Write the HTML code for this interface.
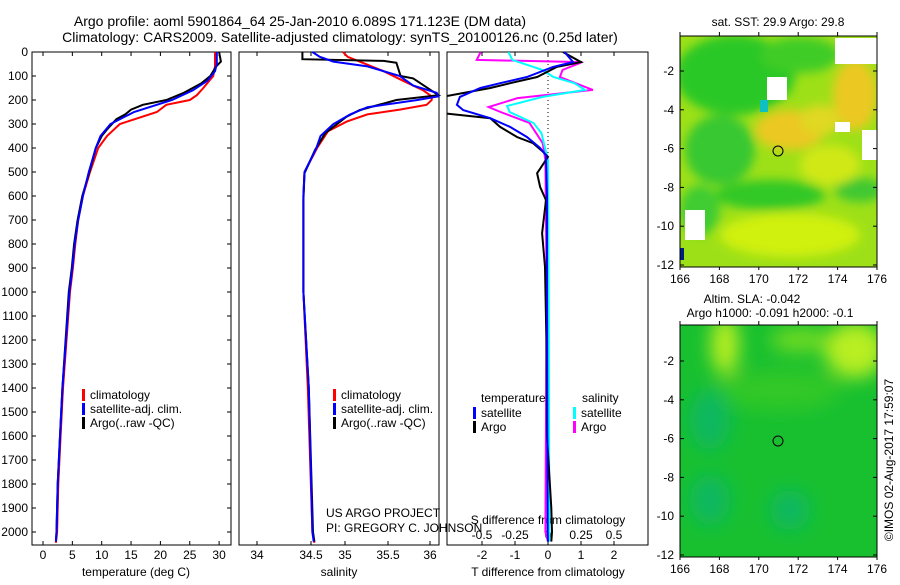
<!DOCTYPE html>
<html><head><meta charset="utf-8"><style>
body{margin:0;background:#fff;}
svg{font-family:"Liberation Sans",sans-serif;}
</style></head><body>
<svg id="c" width="900" height="580" xmlns="http://www.w3.org/2000/svg">
<defs>
<clipPath id="cp3"><rect x="447" y="52" width="201" height="493"/></clipPath>
<clipPath id="cpm1"><rect x="680" y="36" width="197" height="231"/></clipPath>
<clipPath id="cpm2"><rect x="680" y="325" width="197" height="232"/></clipPath>
<filter id="bl" x="-50%" y="-50%" width="200%" height="200%"><feGaussianBlur stdDeviation="5"/></filter>
<filter id="bl2" x="-50%" y="-50%" width="200%" height="200%"><feGaussianBlur stdDeviation="9"/></filter>
</defs>
<text x="300" y="26" font-size="14" text-anchor="middle">Argo profile: aoml 5901864_64 25-Jan-2010 6.089S 171.123E (DM data)</text>
<text x="340" y="42" font-size="14" text-anchor="middle">Climatology: CARS2009. Satellite-adjusted climatology: synTS_20100126.nc (0.25d later)</text>

<!-- maps -->
<g clip-path="url(#cpm1)">
<rect x="680" y="36" width="197" height="231" fill="#9ee018"/>
<g filter="url(#bl)">
<ellipse cx="735" cy="75" rx="60" ry="40" fill="#2cc828"/>
<ellipse cx="800" cy="55" rx="40" ry="18" fill="#40cc28"/>
<ellipse cx="720" cy="150" rx="35" ry="35" fill="#38c830"/>
<ellipse cx="770" cy="195" rx="55" ry="15" fill="#30c828"/>
<ellipse cx="860" cy="190" rx="25" ry="12" fill="#40c830"/>
<ellipse cx="700" cy="210" rx="20" ry="25" fill="#40cc30"/>
<ellipse cx="790" cy="130" rx="35" ry="20" fill="#ecc820"/>
<ellipse cx="855" cy="95" rx="22" ry="35" fill="#ecc820"/>
<ellipse cx="820" cy="120" rx="20" ry="15" fill="#e0d820"/>
<ellipse cx="790" cy="235" rx="70" ry="22" fill="#d0f010"/>
<ellipse cx="830" cy="165" rx="30" ry="20" fill="#d0e818"/>
</g>
<rect x="767" y="77" width="20" height="23" fill="#fff"/>
<rect x="835" y="122" width="15" height="10" fill="#fff"/>
<rect x="685" y="210" width="20" height="30" fill="#fff"/>
<rect x="680" y="248" width="4" height="12" fill="#002080"/>
<rect x="835" y="38" width="42" height="26" fill="#fff"/>
<rect x="862" y="130" width="15" height="30" fill="#fff"/>
<rect x="760" y="100" width="8" height="12" fill="#10c0c0"/>
</g>
<rect x="680" y="36" width="197" height="231" fill="none" stroke="#000"/>
<circle cx="778" cy="151" r="5" fill="none" stroke="#000"/>
<text x="778" y="26" font-size="12" text-anchor="middle">sat. SST: 29.9 Argo: 29.8</text>

<g clip-path="url(#cpm2)">
<rect x="680" y="325" width="197" height="232" fill="#18c030"/>
<g filter="url(#bl2)">
<ellipse cx="725" cy="345" rx="14" ry="30" fill="#b8ee20"/>
<ellipse cx="855" cy="350" rx="30" ry="28" fill="#b8ee20"/>
<ellipse cx="800" cy="340" rx="30" ry="12" fill="#70da20"/>
<ellipse cx="780" cy="390" rx="60" ry="20" fill="#30c828"/>
<ellipse cx="710" cy="420" rx="20" ry="30" fill="#10b860"/>
<ellipse cx="710" cy="500" rx="20" ry="25" fill="#10b860"/>
<ellipse cx="790" cy="510" rx="20" ry="20" fill="#10b860"/>
</g>
</g>
<rect x="680" y="325" width="197" height="232" fill="none" stroke="#000"/>
<circle cx="778" cy="441" r="5" fill="none" stroke="#000"/>
<text x="752" y="303" font-size="12" text-anchor="middle">Altim. SLA: -0.042</text>
<text x="770" y="317" font-size="12" text-anchor="middle">Argo h1000: -0.091 h2000: -0.1</text>
<text transform="translate(893,460) rotate(-90)" font-size="12" text-anchor="middle">©IMOS 02-Aug-2017 17:59:07</text>
<g id="axes"></g>
</svg>
<script>
// ---- data (depth in m) ----
const tClimD=[0,60,100,150,180,200,220,250,300,350,400,500,600,700,800,900,1000,1400,1600,1800,2000,2045];
const tClimV=[29.3,29.3,29.0,27.3,26.2,25.0,21.0,19.4,13.1,10.9,9.4,8.0,6.8,6.0,5.5,5.1,4.6,3.4,3.0,2.6,2.4,2.2];
const tSatD=[0,50,80,120,160,200,250,300,350,400,500,600,700,800,900,1000,1400,1600,1800,2000,2040];
const tSatV=[29.6,29.6,29.3,28.0,25.5,22.0,15.5,11.5,9.8,9.0,7.8,6.8,6.0,5.4,5.0,4.5,3.3,2.9,2.5,2.3,2.2];
const tArgD=[0,40,60,100,130,170,200,220,240,260,280,320,350,400,500,600,700,800,900,1000,1400,1600,1800,2000,2040];
const tArgV=[30.0,30.3,29.5,28.5,27.0,24.0,21.0,17.0,15.0,14.0,12.5,11.0,10.0,9.0,7.9,6.7,5.9,5.3,4.9,4.4,3.3,2.9,2.5,2.3,2.2];
const sClimD=[0,20,40,80,120,160,185,200,220,240,260,290,330,400,500,600,1000,1400,2000,2045];
const sClimV=[34.97,35.03,35.17,35.45,35.68,35.92,36.02,36.02,35.96,35.64,35.26,35.02,34.75,34.59,34.44,34.43,34.43,34.47,34.52,34.55];
const sSatD=[0,20,40,60,100,140,170,185,200,230,260,300,350,400,500,600,1000,1400,2000,2040];
const sSatV=[34.52,34.63,34.83,35.26,35.64,35.80,36.08,36.10,35.85,35.26,35.06,34.83,34.64,34.58,34.44,34.43,34.43,34.48,34.52,34.54];
const sArgD=[0,30,37,45,100,110,180,200,242,269,338,408,505,617,1000,1400,2000,2040];
const sArgV=[34.42,34.42,35.45,35.60,35.65,35.80,36.10,35.60,35.17,35.02,34.71,34.56,34.44,34.43,34.43,34.48,34.53,34.55];
const dtSatD=[0,42,62,104,130,150,187,220,242,276,312,354,400,430,600,1000,1500,2000,2040];
const dtSatV=[0.5,0.76,0.15,-0.64,-1.45,-2.05,-2.67,-2.76,-2.57,-1.75,-1.15,-0.64,-0.24,-0.06,-0.03,-0.03,-0.02,-0.01,0];
const dtArgD=[0,42,62,104,130,150,187,255,276,312,354,380,416,437,505,562,617,755,895,1200,1600,1900,2000,2040];
const dtArgV=[0.45,1.0,0.27,-0.33,-1.15,-1.75,-3.2,-3.2,-1.75,-1.45,-0.94,-0.45,-0.15,0,-0.33,-0.24,-0.06,-0.18,-0.09,-0.05,-0.03,0.1,0.12,0.1];
const dsSatD=[0,33,75,104,130,158,187,225,250,296,338,450,1000,2000,2040];
const dsSatV=[-0.30,-0.27,-0.04,0.04,0.20,0.28,-0.04,-0.31,-0.29,-0.11,-0.05,0,0.005,0.01,0.01];
const dsArgD=[0,33,42,75,104,158,192,229,250,296,338,380,450,1000,2000,2040];
const dsArgV=[-0.51,-0.54,0.26,0.11,0.09,0.34,-0.23,-0.45,-0.36,-0.14,-0.09,-0.04,-0.02,-0.01,-0.02,0];
const depthTicks=[0,100,200,300,400,500,600,700,800,900,1000,1100,1200,1300,1400,1500,1600,1700,1800,1900,2000];
const tTicks=[0,5,10,15,20,25,30];
const sTicks=[34,34.5,35,35.5,36];
const dtTicks=[-2,-1,0,1,2];
const dsTicks=[-0.5,-0.25,0,0.25,0.5];
const dsTickLabels=["-0.5","-0.25","0","0.25","0.5"];
const latTicks=[-2,-4,-6,-8,-10,-12];
const lonTicks=[166,168,170,172,174,176];

// ---- axis functions ----
const yD=d=>52+d*0.24;
const xT=t=>43+t*5.87;
const sK=[34,34.5,35,35.5,36], sP=[257,311,345,388,430];
function xS(s){let i=0;if(s<=sK[0])i=0;else if(s>=sK[4])i=3;else{while(s>sK[i+1])i++;}return sP[i]+(s-sK[i])/(sK[i+1]-sK[i])*(sP[i+1]-sP[i]);}
const xTd=v=>548+v*33;
const xSd=v=>548+v*132;
const xLon=l=>680+(l-166)*19.7;
const yLat1=l=>71+(-2-l)*19.4;
const yLat2=l=>361+(-2-l)*19.4;

const NS='http://www.w3.org/2000/svg';
const g=document.getElementById('axes');
function mk(tag,at,parent){const e=document.createElementNS(NS,tag);for(const k in at)e.setAttribute(k,at[k]);(parent||g).appendChild(e);return e;}
function txt(x,y,s,anchor,size,parent){const e=mk('text',{x:x,y:y,'font-size':size||12,'text-anchor':anchor||'middle'},parent);e.textContent=s;return e;}

const panels=[[32,199,'temperature-panel'],[239,200,'salinity-panel'],[447,201,'difference-panel']];
panels.forEach(p=>{
  const r=mk('rect',{x:p[0],y:52,width:p[1],height:493,fill:'none',stroke:'#000'});
  
  
});
depthTicks.forEach(d=>{
  const y=yD(d);
  const t=txt(28,y+4,String(d),'end',12);
  
  
  mk('line',{x1:32,x2:36,y1:y,y2:y,stroke:'#000'});
  mk('line',{x1:227,x2:231,y1:y,y2:y,stroke:'#000'});
});
tTicks.forEach(t=>{
  const x=xT(t);
  const e=txt(x,559,String(t),'middle',12);
  
  
  mk('line',{x1:x,x2:x,y1:545,y2:541,stroke:'#000'});
  mk('line',{x1:x,x2:x,y1:52,y2:56,stroke:'#000'});
});
sTicks.forEach(s=>{
  const x=xS(s);
  const e=txt(x,559,String(s),'middle',12);
  
  
  mk('line',{x1:x,x2:x,y1:545,y2:541,stroke:'#000'});
  mk('line',{x1:x,x2:x,y1:52,y2:56,stroke:'#000'});
});
dtTicks.forEach(v=>{
  const x=xTd(v);
  const e=txt(x,559,String(v),'middle',12);
  
  
  mk('line',{x1:x,x2:x,y1:545,y2:541,stroke:'#000'});
  mk('line',{x1:x,x2:x,y1:52,y2:56,stroke:'#000'});
});
dsTicks.forEach((v,i)=>{
  const e=txt(xSd(v),539,dsTickLabels[i],'middle',12);
  
  
});
mk('line',{x1:548,x2:548,y1:52,y2:545,stroke:'#000','stroke-dasharray':'1,3'});
[[136,'temperature (deg C)','temperature-axis-title'],[339,'salinity','salinity-axis-title'],[548,'T difference from climatology','t-diff-axis-title']].forEach(a=>{
  const e=txt(a[0],576,a[1],'middle',12);
  
  
});
let e0=txt(548,524,'S difference from climatology','middle',12);


e0=txt(326,517,'US ARGO PROJECT','start',12);


e0=txt(326,532,'PI: GREGORY C. JOHNSON','start',12);



function line(D,V,fx,color,name,parent){
  const pts=D.map((d,i)=>fx(V[i]).toFixed(1)+','+yD(d).toFixed(1)).join(' ');
  const p=mk('polyline',{points:pts,fill:'none',stroke:color,'stroke-width':2},parent);
  
  
}
line(tClimD,tClimV,xT,'#f00','temp-climatology-line');
line(tArgD,tArgV,xT,'#000','temp-argo-line');
line(tSatD,tSatV,xT,'#00f','temp-satellite-line');
line(sClimD,sClimV,xS,'#f00','sal-climatology-line');
line(sArgD,sArgV,xS,'#000','sal-argo-line');
line(sSatD,sSatV,xS,'#00f','sal-satellite-line');
const cg=mk('g',{'clip-path':'url(#cp3)'});
line(dsArgD,dsArgV,xSd,'#f0f','s-diff-argo-line',cg);
line(dsSatD,dsSatV,xSd,'#0ff','s-diff-satellite-line',cg);
line(dtArgD,dtArgV,xTd,'#000','t-diff-argo-line',cg);
line(dtSatD,dtSatV,xTd,'#00f','t-diff-satellite-line',cg);

function leg(x,y,color,label,name){
  mk('rect',{x:x,y:y-9,width:3,height:12,fill:color});
  const e=txt(x+8,y+1,label,'start',12);
  
  
}
[[82],[333]].forEach((p,k)=>{
  leg(p[0],398,'#f00','climatology','legend-climatology');
  leg(p[0],412,'#00f','satellite-adj. clim.','legend-satellite');
  leg(p[0],426,'#000','Argo(..raw -QC)','legend-argo');
});
e0=txt(481,402,'temperature','start',12);


e0=txt(582,402,'salinity','start',12);


leg(473,416,'#00f','satellite','legend-t-satellite');
leg(473,430,'#000','Argo','legend-t-argo');
leg(573,416,'#0ff','satellite','legend-s-satellite');
leg(573,430,'#f0f','Argo','legend-s-argo');

[[yLat1,36,267],[yLat2,325,557]].forEach(m=>{
  latTicks.forEach(l=>{
    const y=m[0](l);
    const e=txt(674,y+4,String(l),'end',12);
    
    
    mk('line',{x1:680,x2:684,y1:y,y2:y,stroke:'#000'});
    mk('line',{x1:873,x2:877,y1:y,y2:y,stroke:'#000'});
  });
  lonTicks.forEach(l=>{
    const x=xLon(l);
    const e=txt(x,m[2]+16,String(l),'middle',12);
    
    
    mk('line',{x1:x,x2:x,y1:m[1],y2:m[1]-4,stroke:'#000'});
    mk('line',{x1:x,x2:x,y1:m[2],y2:m[2]+3,stroke:'#000'});
  });
});
</script>
</body></html>
